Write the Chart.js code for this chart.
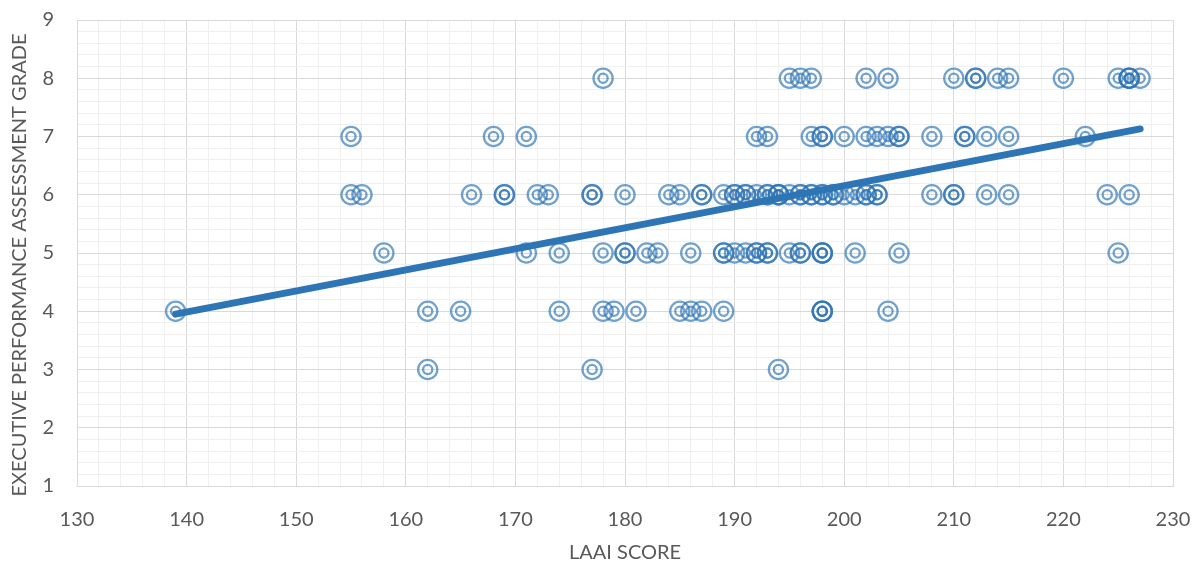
<!DOCTYPE html>
<html>
<head>
<meta charset="utf-8">
<script src="https://cdn.jsdelivr.net/npm/chart.js@4/dist/chart.umd.min.js"></script>
<style>
  html, body { margin: 0; padding: 0; background: #ffffff; }
  #wrap { width: 1199px; height: 568px; position: relative; }
</style>
</head>
<body>
<div id="wrap"><canvas id="chart"></canvas></div>
<script>
// LAAI score of each executive, grouped by assessment grade
const grade8Scores = [178, 195, 196, 197, 202, 204, 210, 212, 212, 214, 215, 220, 225, 226, 226, 226, 227];
const grade7Scores = [155, 168, 171, 192, 193, 197, 198, 198, 200, 202, 203, 204, 205, 205, 208, 211, 211, 213, 215, 222];
const grade6Scores = [155, 156, 166, 169, 169, 172, 173, 177, 177, 180, 184, 185, 187, 187, 189, 190, 190, 191, 191, 192, 193, 193, 194, 194, 194, 195, 196, 196, 197, 197, 198, 198, 199, 199, 200, 201, 202, 202, 203, 203, 208, 210, 210, 213, 215, 224, 226];
const grade5Scores = [158, 171, 174, 178, 180, 180, 182, 183, 186, 189, 189, 190, 191, 192, 192, 193, 193, 195, 196, 196, 198, 198, 198, 201, 205, 225];
const grade4Scores = [139, 162, 165, 174, 178, 179, 181, 185, 186, 187, 189, 198, 198, 198, 204];
const grade3Scores = [162, 177, 194];

// Linear trend line end points
const trendScores = [139, 227];
const trendGrades = [3.95, 7.13];

// Axis ranges
const xMin = 130, xMax = 230, xMajor = 10, xMinor = 2;
const yMin = 1, yMax = 9, yMajor = 1, yMinor = 0.2;

const xTitle = 'LAAI SCORE';
const yTitle = 'EXECUTIVE PERFORMANCE ASSESSMENT GRADE';

const byGrade = [[8, grade8Scores], [7, grade7Scores], [6, grade6Scores], [5, grade5Scores], [4, grade4Scores], [3, grade3Scores]];
const points = [];
byGrade.forEach(([g, scores]) => scores.forEach(s => points.push({ x: s, y: g })));
const trend = trendScores.map((s, i) => ({ x: s, y: trendGrades[i] }));

const markerColor = 'rgba(46,117,182,0.68)';
const gridMajor = '#d9d9d9';
const gridMinor = '#f0f0f0';
const textColor = '#595959';
const fontFamily = 'Lato, "Open Sans", sans-serif';

function isMultiple(v, step) {
  const r = v / step;
  return Math.abs(r - Math.round(r)) < 1e-6;
}

// Rotated title for the vertical axis, drawn beside the tick labels
const yTitlePlugin = {
  id: 'yTitle',
  afterDraw(chart) {
    const { ctx, chartArea } = chart;
    ctx.save();
    ctx.translate(20, (chartArea.top + chartArea.bottom) / 2 + 12);
    ctx.rotate(-Math.PI / 2);
    ctx.textAlign = 'center';
    ctx.textBaseline = 'middle';
    ctx.font = '20px ' + fontFamily;
    ctx.fillStyle = textColor;
    ctx.fillText(yTitle, 0, 0);
    ctx.restore();
  }
};

new Chart(document.getElementById('chart'), {
  type: 'scatter',
  plugins: [yTitlePlugin],
  data: {
    datasets: [
      {
        type: 'line',
        data: trend,
        borderColor: '#2e75b6',
        borderWidth: 7,
        borderCapStyle: 'round',
        pointRadius: 0,
        fill: false,
        order: 0
      },
      {
        data: points,
        pointStyle: 'circle',
        pointRadius: 9.6,
        pointBorderWidth: 2.3,
        pointBackgroundColor: 'rgba(0,0,0,0)',
        pointBorderColor: markerColor,
        order: 1
      },
      {
        data: points,
        pointStyle: 'circle',
        pointRadius: 4.6,
        pointBorderWidth: 2.3,
        pointBackgroundColor: 'rgba(0,0,0,0)',
        pointBorderColor: markerColor,
        order: 2
      }
    ]
  },
  options: {
    responsive: true,
    maintainAspectRatio: false,
    animation: false,
    events: [],
    layout: { padding: { top: 20, right: 26, left: 0, bottom: 0 } },
    plugins: { legend: { display: false }, tooltip: { enabled: false } },
    scales: {
      x: {
        type: 'linear',
        min: xMin,
        max: xMax,
        afterFit: (s) => { s.height = 82; s.paddingLeft = 0; s.paddingRight = 0; },
        border: { color: gridMajor, width: 1 },
        grid: {
          drawTicks: false,
          lineWidth: 1,
          color: (c) => (c.tick && isMultiple(c.tick.value - xMin, xMajor)) ? gridMajor : gridMinor
        },
        ticks: {
          stepSize: xMinor,
          autoSkip: false,
          maxRotation: 0,
          padding: 22,
          color: textColor,
          font: { family: fontFamily, size: 20 },
          callback: (v) => isMultiple(v - xMin, xMajor) ? String(Math.round(v)) : ''
        },
        title: {
          display: true,
          text: xTitle,
          color: textColor,
          font: { family: fontFamily, size: 20 },
          padding: { top: 0, bottom: 3 }
        }
      },
      y: {
        type: 'linear',
        min: yMin,
        max: yMax,
        afterFit: (s) => { s.width = 77; s.paddingTop = 0; s.paddingBottom = 0; },
        border: { color: gridMajor, width: 1 },
        grid: {
          drawTicks: false,
          lineWidth: 1,
          color: (c) => (c.tick && isMultiple(c.tick.value - yMin, yMajor)) ? gridMajor : gridMinor
        },
        ticks: {
          stepSize: yMinor,
          autoSkip: false,
          padding: 23,
          color: textColor,
          font: { family: fontFamily, size: 20 },
          callback: (v) => isMultiple(v - yMin, yMajor) ? String(Math.round(v)) : ''
        },
        title: { display: false }
      }
    }
  }
});
</script>
</body>
</html>
